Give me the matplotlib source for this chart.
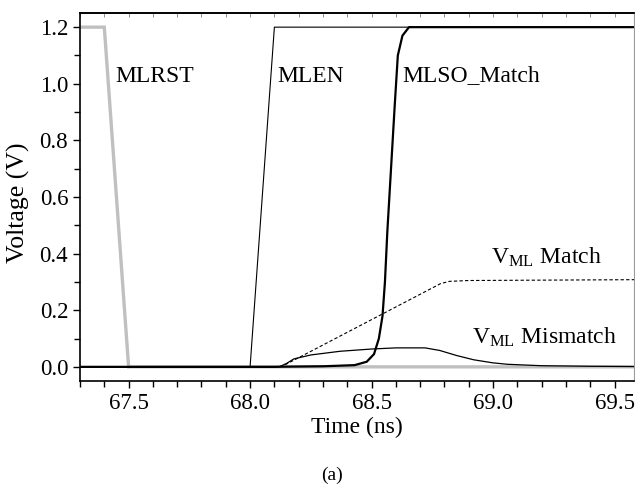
import numpy as np
import matplotlib
matplotlib.use('Agg')
import matplotlib.pyplot as plt
from matplotlib.ticker import MultipleLocator

plt.rcParams['font.family'] = ['Liberation Serif', 'DejaVu Serif']
plt.rcParams['mathtext.fontset'] = 'custom'
plt.rcParams['mathtext.rm'] = 'Liberation Serif'
plt.rcParams['mathtext.it'] = 'Liberation Serif:italic'

# waveforms (time in ns, voltage in V)
t_mlrst = [67.3, 67.4, 67.5, 69.6]
v_mlrst = [1.2, 1.2, 0.0, 0.0]

t_mlen = [67.3, 68.0, 68.1, 69.6]
v_mlen = [0.0, 0.0, 1.2, 1.2]

t_mlso = [67.3, 68.1, 68.13, 68.3, 68.43, 68.48, 68.51, 68.53, 68.545, 68.555,
          68.565, 68.58, 68.595, 68.608, 68.627, 68.654, 69.6]
v_mlso = [0.0, 0.0, 0.0005, 0.002, 0.006, 0.018, 0.045, 0.1, 0.18, 0.3,
          0.48, 0.7, 0.92, 1.1, 1.17, 1.2, 1.2]

t_match = [67.3, 68.12, 68.15, 68.784, 68.82, 68.9, 69.6]
v_match = [0.0, 0.0, 0.01, 0.294, 0.302, 0.305, 0.308]

t_mism = [67.3, 68.12, 68.15, 68.18, 68.25, 68.37, 68.5, 68.6, 68.72, 68.78,
          68.85, 68.92, 69.0, 69.06, 69.2, 69.4, 69.6]
v_mism = [0.0, 0.0, 0.012, 0.028, 0.042, 0.055, 0.063, 0.067, 0.067, 0.058,
          0.04, 0.025, 0.014, 0.009, 0.004, 0.002, 0.001]

fig = plt.figure(figsize=(6.35, 4.86), dpi=100)
ax = fig.add_axes([80/635, 105/486, 554/635, 368/486])

ax.plot(t_mlrst, v_mlrst, color='#c0c0c0', lw=2.4, solid_joinstyle='miter')
ax.plot(t_mlen, v_mlen, color='black', lw=0.8)
ax.plot(t_match, v_match, color='black', lw=0.8, dashes=(3, 2))
ax.plot(t_mism, v_mism, color='black', lw=0.9)
ax.plot(t_mlso, v_mlso, color='black', lw=1.6)

ax.set_xlim(67.3, 69.58)
ax.set_ylim(-0.05, 1.25)
ax.xaxis.set_major_locator(MultipleLocator(0.5))
ax.xaxis.set_minor_locator(MultipleLocator(0.1))
ax.yaxis.set_major_locator(MultipleLocator(0.2))
ax.yaxis.set_minor_locator(MultipleLocator(0.1))
ax.xaxis.set_major_formatter(matplotlib.ticker.FormatStrFormatter('%.1f'))
ax.yaxis.set_major_formatter(matplotlib.ticker.FormatStrFormatter('%.1f'))

ax.tick_params(which='both', direction='out', labelsize=16.5, width=1.0)
ax.tick_params(which='major', length=5)
ax.tick_params(which='minor', length=4)
ax.tick_params(axis='y', right=False)

top = ax.secondary_xaxis('top')
top.xaxis.set_major_locator(MultipleLocator(0.5))
top.xaxis.set_minor_locator(MultipleLocator(0.1))
top.tick_params(which='both', direction='in', length=3, width=0.6,
                colors='0.5', labeltop=False)
top.spines['top'].set_linewidth(1.2)
top.spines['top'].set_color('black')

for s in ['left', 'bottom', 'top']:
    ax.spines[s].set_linewidth(1.2)
ax.spines['right'].set_color('0.6')
ax.spines['right'].set_linewidth(0.8)

ax.set_xlabel('Time (ns)', fontsize=17, labelpad=2)
ax.set_ylabel('Voltage (V)', fontsize=18.5)
ax.yaxis.set_label_coords(-0.09, 0.484)

ax.text(67.444, 1.008, 'MLRST', fontsize=17)
ax.text(68.113, 1.008, 'MLEN', fontsize=17)
ax.text(68.627, 1.008, 'MLSO_Match', fontsize=17)
ax.text(68.99, 0.365, r'V$_{\mathrm{ML}}$ Match', fontsize=17)
ax.text(68.914, 0.083, r'V$_{\mathrm{ML}}$ Mismatch', fontsize=17)

fig.text(332/635, 1 - 475/486, '(a)', fontsize=14, ha='center', va='center')

fig.savefig('out.png', dpi=100)
